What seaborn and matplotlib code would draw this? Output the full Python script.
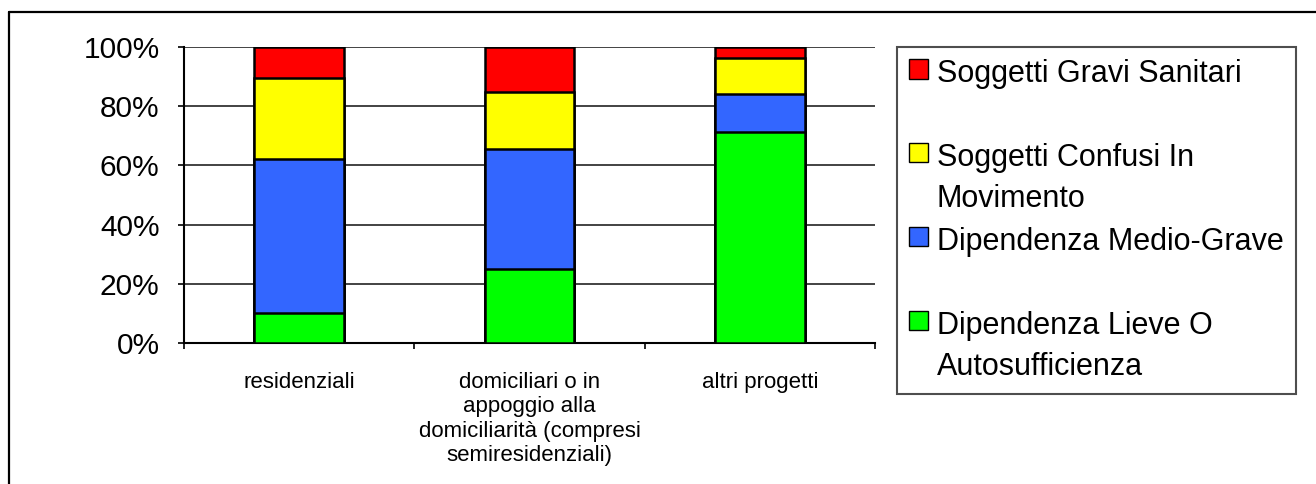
import matplotlib
matplotlib.use("Agg")
import matplotlib.pyplot as plt
from matplotlib.patches import Patch
from matplotlib.lines import Line2D
from matplotlib.ticker import FuncFormatter, FixedLocator
import numpy as np
import pandas as pd
import seaborn as sns

# ---- data (percent) ----
categories = ["residenziali",
              "domiciliari o in\nappoggio alla\ndomiciliarità (compresi\nsemiresidenziali)",
              "altri progetti"]
lieve = [10.1, 25.1, 71.4]      # Dipendenza Lieve O Autosufficienza
medio = [52.1, 40.4, 12.8]      # Dipendenza Medio-Grave
confusi = [27.3, 19.3, 12.1]    # Soggetti Confusi In Movimento
gravi = [10.5, 15.2, 3.7]       # Soggetti Gravi Sanitari

series_names = ["Dipendenza Lieve O\nAutosufficienza",
                "Dipendenza Medio-Grave\n",
                "Soggetti Confusi In\nMovimento",
                "Soggetti Gravi Sanitari\n"]
series_colors = ["#00FF00", "#3366FF", "#FFFF00", "#FF0000"]
y_ticks = [0, 20, 40, 60, 80, 100]

sns.set_style("white")
plt.rcParams["font.family"] = ["Liberation Sans", "DejaVu Sans"]
plt.rcParams["text.color"] = "black"

W, H = 1316, 484
fig = plt.figure(figsize=(W / 100, H / 100), dpi=100)
ax = fig.add_axes([184 / W, 1 - 343 / H, (875 - 184) / W, (343 - 47) / H])

stack = np.cumsum(np.array([lieve, medio, confusi, gravi]), axis=0)

# draw cumulative totals from the tallest to the shortest
for i in range(3, -1, -1):
    d = pd.DataFrame({"cat": categories, "val": stack[i]})
    sns.barplot(data=d, x="cat", y="val", color=series_colors[i],
                saturation=1, width=0.39, edgecolor="black", linewidth=1.8,
                errorbar=None, ax=ax, zorder=3)

ax.set_xlim(-0.5, 2.5)
ax.set_ylim(0, 100)
ax.set_xlabel("")
ax.set_ylabel("")
ax.yaxis.set_major_locator(FixedLocator(y_ticks))
ax.yaxis.set_major_formatter(FuncFormatter(lambda v, p: f"{v:.0f}%"))
ax.yaxis.grid(True, color="#222222", linewidth=1.2, zorder=0)
ax.xaxis.grid(False)
ax.set_axisbelow(True)

for s in ["top", "right"]:
    ax.spines[s].set_visible(False)
for s in ["left", "bottom"]:
    ax.spines[s].set_color("black")
    ax.spines[s].set_linewidth(1.5)

ax.tick_params(axis="y", direction="out", length=4.5, width=1.2, color="black",
               left=True, labelsize=21.5, pad=13, labelcolor="black")
ax.set_xticks(range(len(categories)))
ax.set_xticklabels(categories, fontsize=16, linespacing=1.2, va="top")
ax.tick_params(axis="x", which="major", length=0, pad=21, labelcolor="black")
ax.set_xticks([-0.5, 0.5, 1.5, 2.5], minor=True)
ax.tick_params(axis="x", which="minor", direction="out", length=4.5, width=1.2,
               color="black", bottom=True)

# legend (top entry first)
handles = [Patch(facecolor=series_colors[i], edgecolor="black", linewidth=1)
           for i in range(3, -1, -1)]
labels = [series_names[i] for i in range(3, -1, -1)]
leg = fig.legend(handles, labels, loc="upper left",
                 bbox_to_anchor=(897 / W, 1 - 47 / H), bbox_transform=fig.transFigure,
                 fontsize=22, frameon=True, fancybox=False, shadow=False,
                 handlelength=0.6, handleheight=0.6, handletextpad=0.3,
                 borderpad=0.4, labelspacing=0.42, borderaxespad=0,
                 labelcolor="black")
leg.get_frame().set_edgecolor("#222222")
leg.get_frame().set_linewidth(1.5)
for t in leg.get_texts():
    t.set_linespacing(1.48)
try:
    for col in leg._legend_handle_box.get_children():
        for item in col.get_children():
            item.align = "top"
except Exception:
    pass

# outer frame (top and left edges)
fig.add_artist(Line2D([9 / W, 1], [1 - 12 / H, 1 - 12 / H], color="black",
                      linewidth=1.6, transform=fig.transFigure))
fig.add_artist(Line2D([9 / W, 9 / W], [0, 1 - 12 / H], color="black",
                      linewidth=1.6, transform=fig.transFigure))

fig.savefig("out.png", dpi=100, facecolor="white")
